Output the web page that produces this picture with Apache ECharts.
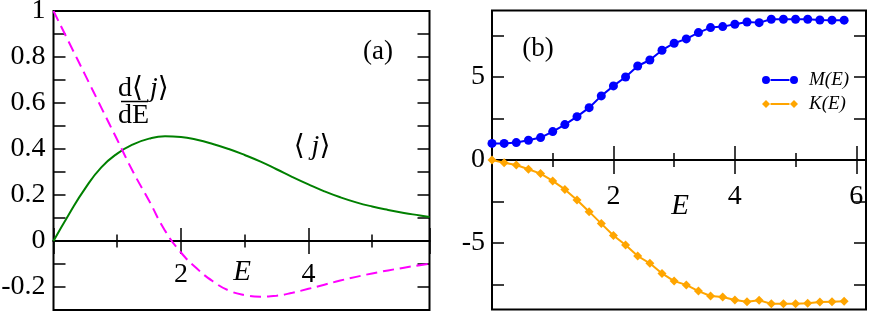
<!DOCTYPE html>
<html><head><meta charset="utf-8">
<script src="https://cdn.jsdelivr.net/npm/echarts@6/dist/echarts.min.js"></script>
<style>html,body{margin:0;padding:0;background:#fff}#c{width:872px;height:313px}</style>
</head><body><div id="c"></div>
<script>
// ---- Panel (a) data ----
const E_A  = [0, 0.25, 0.5, 0.75, 1.0, 1.25, 1.5, 1.75, 2.0, 2.25, 2.5, 2.75, 3.0, 3.25, 3.5, 3.75, 4.0, 4.25, 4.5, 4.75, 5.0, 5.25, 5.5, 5.75, 5.9];
const J_A  = [0, 0.12, 0.23, 0.32, 0.38, 0.42, 0.445, 0.455, 0.452, 0.44, 0.422, 0.40, 0.374, 0.345, 0.312, 0.278, 0.246, 0.216, 0.19, 0.168, 0.15, 0.135, 0.122, 0.111, 0.104];
const DJ_A = [1.0, 0.86, 0.72, 0.58, 0.44, 0.30, 0.175, 0.045, -0.05, -0.12, -0.175, -0.215, -0.235, -0.242, -0.238, -0.225, -0.208, -0.19, -0.172, -0.156, -0.141, -0.128, -0.116, -0.105, -0.099];
const Y_TICKS_A  = [-0.2, -0.1, 0, 0.1, 0.2, 0.3, 0.4, 0.5, 0.6, 0.7, 0.8, 0.9];
const Y_LABELS_A = [-0.2, 0, 0.2, 0.4, 0.6, 0.8, 1];
const X_LABELS_A = [2, 4];

// ---- Panel (b) data ----
const E_B = [0, 0.2, 0.4, 0.6, 0.8, 1.0, 1.2, 1.4, 1.6, 1.8, 2.0, 2.2, 2.4, 2.6, 2.8, 3.0, 3.2, 3.4, 3.6, 3.8, 4.0, 4.2, 4.4, 4.6, 4.8, 5.0, 5.2, 5.4, 5.6, 5.8];
const M_B = [1.0, 1.0, 1.05, 1.19, 1.35, 1.71, 2.13, 2.61, 3.15, 3.86, 4.46, 5.0, 5.66, 6.02, 6.61, 7.03, 7.29, 7.67, 7.97, 8.03, 8.17, 8.31, 8.27, 8.47, 8.47, 8.47, 8.47, 8.43, 8.42, 8.42];
const K_B = [0, -0.16, -0.3, -0.56, -0.82, -1.26, -1.77, -2.41, -3.11, -3.83, -4.54, -5.12, -5.78, -6.22, -6.83, -7.29, -7.52, -7.89, -8.19, -8.25, -8.43, -8.53, -8.45, -8.65, -8.65, -8.65, -8.63, -8.55, -8.53, -8.51];
const Y_TICKS_B  = [-7.5, -5, -2.5, 0, 2.5, 5, 7.5];
const Y_LABELS_B = [-5, 0, 5];
const X_LABELS_B = [2, 4, 6];

const SERIF = "'Liberation Serif', 'DejaVu Serif', serif";
const BLACK = '#000';

// up: onZero axis with ticks pointing up; down: same axis shifted (offset) onto the zero line with ticks pointing down + labels
function xAxes(gridIndex, yIdx, max, labels, majorLen, minorLen, labelMargin, zeroOffset) {
  const base = {
    type: 'value', gridIndex, min: 0, max, interval: 2, position: 'bottom',
    splitLine: { show: false },
    axisLine: { show: true, onZero: true, onZeroAxisIndex: yIdx, lineStyle: { color: BLACK, width: 2 } },
    axisTick: { show: true, length: majorLen, lineStyle: { color: BLACK, width: 1.5 } },
    minorTick: { show: true, splitNumber: 2, length: minorLen, lineStyle: { color: BLACK, width: 1.5 } },
    minorSplitLine: { show: false }
  };
  const up = JSON.parse(JSON.stringify(base));
  up.axisTick.inside = true;
  up.axisLabel = { show: false };
  const down = JSON.parse(JSON.stringify(base));
  down.axisLine.onZero = false;
  down.offset = zeroOffset;
  down.axisTick.inside = false;
  down.axisLabel = { show: true, customValues: labels, margin: labelMargin, color: BLACK, fontSize: 28, fontFamily: SERIF };
  return [up, down];
}

function yAxes(gridIndex, min, max, ticks, labels, labelMargin) {
  const common = {
    type: 'value', gridIndex, min, max,
    splitLine: { show: false },
    axisLine: { show: false, onZero: false },
    axisTick: { show: true, inside: true, length: 12, customValues: ticks, lineStyle: { color: BLACK, width: 1.5 } }
  };
  const left = Object.assign({}, common, {
    position: 'left',
    axisLabel: { show: true, customValues: labels, margin: labelMargin, color: BLACK, fontSize: 28, fontFamily: SERIF }
  });
  const right = Object.assign({}, common, { position: 'right', axisLabel: { show: false } });
  return [left, right];
}

const chart = echarts.init(document.getElementById('c'), null, { renderer: 'canvas' });

const option = {
  animation: false,
  backgroundColor: '#fff',
  grid: [
    { left: 53.5, top: 11, width: 376, height: 299, outerBoundsMode: 'none', containLabel: false, show: true, borderColor: BLACK, borderWidth: 2, backgroundColor: 'transparent' },
    { left: 492, top: 10.5, width: 374, height: 299, outerBoundsMode: 'none', containLabel: false, show: true, borderColor: BLACK, borderWidth: 2, backgroundColor: 'transparent' }
  ],
  xAxis: [
    ...xAxes(0, 0, 5.9, X_LABELS_A, 13, 6.5, 20, -69),
    ...xAxes(1, 2, 6.16, X_LABELS_B, 14, 7, 23, -149.5)
  ],
  yAxis: [
    ...yAxes(0, -0.3, 1, Y_TICKS_A, Y_LABELS_A, 8),
    ...yAxes(1, -9, 9, Y_TICKS_B, Y_LABELS_B, 7)
  ],
  legend: {
    orient: 'vertical', left: 757, top: 64, itemWidth: 36, itemHeight: 8, itemGap: 2,
    textStyle: { fontFamily: SERIF, fontStyle: 'italic', fontSize: 19, color: BLACK, lineHeight: 22, padding: [0, 0, 0, 6] },
    data: [
      { name: 'M(E)', icon: 'path://M0,4A4,4 0 1,0 8,4A4,4 0 1,0 0,4Z M8.5,3L27.5,3L27.5,5L8.5,5Z M28,4A4,4 0 1,0 36,4A4,4 0 1,0 28,4Z' },
      { name: 'K(E)', icon: 'path://M0,4L4,0L8,4L4,8Z M8.5,3L27.5,3L27.5,5L8.5,5Z M28,4L32,0L36,4L32,8Z' }
    ]
  },
  series: [
    { name: 'j', type: 'line', xAxisIndex: 0, yAxisIndex: 0, data: E_A.map((e, i) => [e, J_A[i]]),
      smooth: 0.5, symbol: 'none', lineStyle: { color: '#008000', width: 2 }, z: 3 },
    { name: 'dj', type: 'line', xAxisIndex: 0, yAxisIndex: 0, data: E_A.map((e, i) => [e, DJ_A[i]]),
      smooth: 0.5, symbol: 'none', lineStyle: { color: '#ff00ff', width: 2, type: [11, 6] }, z: 3 },
    { name: 'M(E)', type: 'line', xAxisIndex: 2, yAxisIndex: 2, data: E_B.map((e, i) => [e, M_B[i]]),
      symbol: 'circle', symbolSize: 9, itemStyle: { color: '#0000ff' }, lineStyle: { color: '#0000ff', width: 2 }, z: 3 },
    { name: 'K(E)', type: 'line', xAxisIndex: 2, yAxisIndex: 2, data: E_B.map((e, i) => [e, K_B[i]]),
      symbol: 'diamond', symbolSize: 9, itemStyle: { color: '#ffa500' }, lineStyle: { color: '#ffa500', width: 2 }, z: 3 }
  ],
  graphic: [
    { type: 'text', x: 378, y: 52, style: { text: '(a)', fontSize: 27, fontFamily: SERIF, fill: BLACK, align: 'center', verticalAlign: 'middle' } },
    { type: 'text', x: 538, y: 49, style: { text: '(b)', fontSize: 27, fontFamily: SERIF, fill: BLACK, align: 'center', verticalAlign: 'middle' } },
    { type: 'text', x: 242, y: 272, style: { text: 'E', fontSize: 29, fontStyle: 'italic', fontFamily: SERIF, fill: BLACK, align: 'center', verticalAlign: 'middle' } },
    { type: 'text', x: 680, y: 206, style: { text: 'E', fontSize: 29, fontStyle: 'italic', fontFamily: SERIF, fill: BLACK, align: 'center', verticalAlign: 'middle' } },
    { type: 'text', x: 312, y: 147, style: { text: '{n|\u27E8 }{i|j}{n|\u27E9}', fill: BLACK, align: 'center', verticalAlign: 'middle',
        rich: { n: { fontSize: 28, fontFamily: SERIF, fill: BLACK }, i: { fontSize: 28, fontFamily: SERIF, fontStyle: 'italic', fill: BLACK } } } },
    { type: 'text', x: 118, y: 89, style: { text: '{n|d\u27E8 }{i|j}{n|\u27E9}', fill: BLACK, align: 'left', verticalAlign: 'middle',
        rich: { n: { fontSize: 28, fontFamily: SERIF, fill: BLACK }, i: { fontSize: 28, fontFamily: SERIF, fontStyle: 'italic', fill: BLACK } } } },
    { type: 'line', shape: { x1: 121, y1: 101.5, x2: 148, y2: 101.5 }, style: { stroke: BLACK, lineWidth: 1.5 } },
    { type: 'text', x: 118, y: 116, style: { text: 'dE', fontSize: 28, fontFamily: SERIF, fill: BLACK, align: 'left', verticalAlign: 'middle' } }
  ]
};
chart.setOption(option);
</script>
</body></html>
